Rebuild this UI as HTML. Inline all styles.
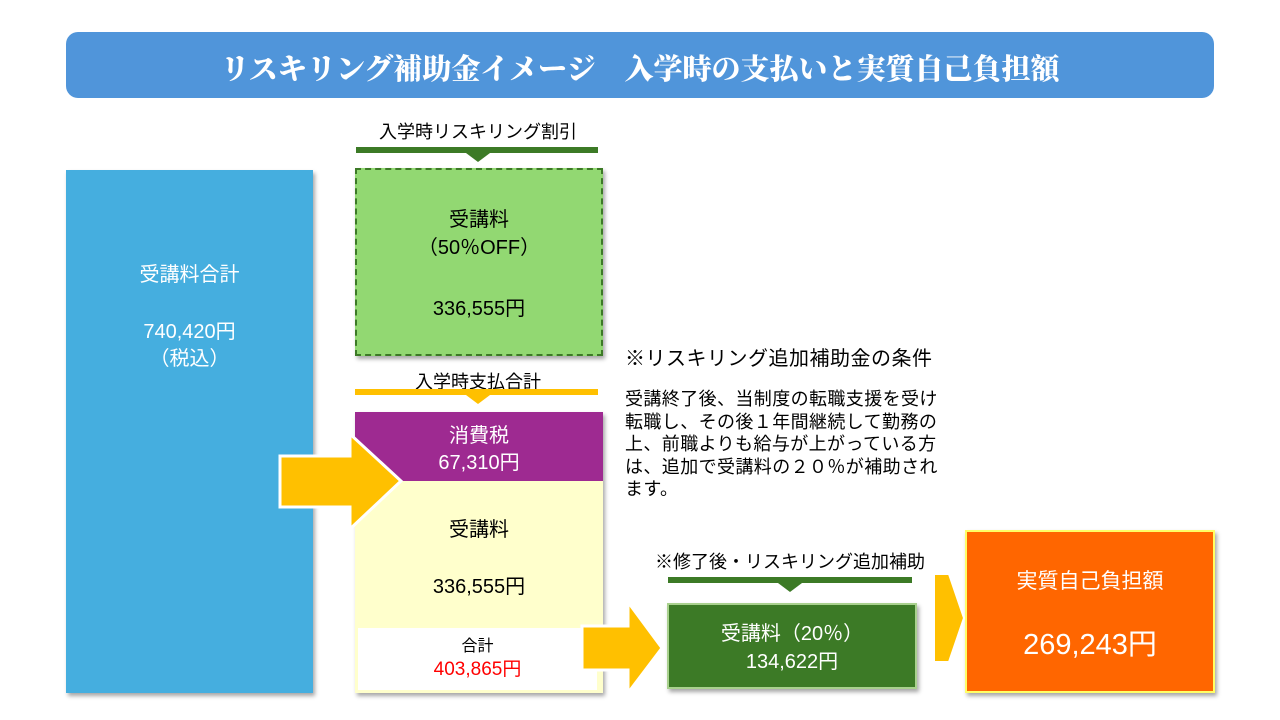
<!DOCTYPE html>
<html><head><meta charset="utf-8"><style>
body{margin:0;width:1280px;height:720px;background:#fff;position:relative;overflow:hidden;font-family:"Liberation Sans","Noto Sans CJK JP",sans-serif;}
.a{position:absolute;}
.c{position:absolute;text-align:center;white-space:nowrap;}
.sh{box-shadow:2px 3px 4px rgba(0,0,0,0.35);}
</style></head><body>
<div class="a" style="left:66px;top:32px;width:1148px;height:66px;background:#5095DA;border-radius:12px;"></div>
<div class="c" style="left:66px;top:48px;width:1148px;font-family:'Noto Serif CJK SC',serif;font-weight:900;font-size:29px;color:#fff;line-height:40px;">リスキリング補助金イメージ　入学時の支払いと実質自己負担額</div>

<div class="a sh" style="left:66px;top:170px;width:247px;height:523px;background:#45AEDF;"></div>
<div class="c" style="left:66px;top:262px;width:247px;color:#fff;font-size:20px;line-height:26px;">受講料合計</div>
<div class="c" style="left:66px;top:319px;width:247px;color:#fff;font-size:20px;line-height:27px;">740,420円<br>（税込）</div>

<div class="c" style="left:356px;top:118px;width:244px;font-size:18px;">入学時リスキリング割引</div>
<div class="a" style="left:356px;top:147px;width:242px;height:6px;background:#3C7A26;"></div>
<svg class="a" style="left:0;top:0" width="1280" height="720">
<polygon points="466,153 490,153 478,162" fill="#3C7A26"/>
<polygon points="466,395 490,395 478,404" fill="#FFC000"/>
<polygon points="778,583 802,583 790,592" fill="#3C7A26"/>
</svg>
<div class="a sh" style="left:355px;top:168px;width:244px;height:184px;background:#92D872;border:2px dashed #3C7A26;"></div>
<div class="c" style="left:355px;top:206px;width:248px;font-size:20px;line-height:28px;">受講料<br>（50％OFF）</div>
<div class="c" style="left:355px;top:292px;width:248px;font-size:20px;">336,555円</div>

<div class="c" style="left:356px;top:368px;width:244px;font-size:18px;">入学時支払合計</div>
<div class="a" style="left:355px;top:389px;width:243px;height:6px;background:#FFC000;"></div>

<div class="a sh" style="left:355px;top:412px;width:248px;height:281px;background:#FFFFCC;"></div>
<div class="a" style="left:355px;top:412px;width:248px;height:69px;background:#9E2A91;"></div>
<div class="c" style="left:355px;top:423px;width:248px;font-size:20px;line-height:27px;color:#fff;">消費税<br>67,310円</div>
<div class="c" style="left:355px;top:513px;width:248px;font-size:20px;">受講料</div>
<div class="c" style="left:355px;top:570px;width:248px;font-size:20px;">336,555円</div>
<div class="a" style="left:358px;top:628px;width:239px;height:62px;background:#fff;"></div>
<div class="c" style="left:358px;top:635px;width:239px;font-size:16px;line-height:23px;">合計<br><span style="color:#F00;font-size:19px;">403,865円</span></div>

<svg class="a" style="left:0;top:0" width="1280" height="720">
<polygon points="280,456 350,456 350,434 401,481 350,529 350,507 280,507" fill="#FFC000" stroke="#fff" stroke-width="3"/>
<polygon points="582,626 628,626 628,602 662,648 628,693 628,670 582,670" fill="#FFC000" stroke="#fff" stroke-width="3"/>
</svg>

<div class="a" style="left:625px;top:342px;font-size:20px;white-space:nowrap;letter-spacing:0.5px;">※リスキリング追加補助金の条件</div>
<div class="a" style="left:625px;top:388px;font-size:18px;line-height:22.5px;white-space:nowrap;letter-spacing:0.4px;">受講終了後、当制度の転職支援を受け<br>転職し、その後１年間継続して勤務の<br>上、前職よりも給与が上がっている方<br>は、追加で受講料の２０％が補助され<br>ます。</div>

<div class="c" style="left:640px;top:548px;width:300px;font-size:18px;">※修了後・リスキリング追加補助</div>
<div class="a" style="left:668px;top:577px;width:244px;height:6px;background:#3C7A26;"></div>
<div class="a sh" style="left:667px;top:603px;width:246px;height:82px;background:#3C7A26;border:2px solid #A9D18E;"></div>
<div class="c" style="left:667px;top:620px;width:250px;font-size:20px;line-height:28px;color:#fff;">受講料（20％）<br>134,622円</div>

<div class="a sh" style="left:965px;top:530px;width:246px;height:159px;background:#FF6600;border:2px solid #FFFF66;"></div>
<svg class="a" style="left:0;top:0" width="1280" height="720">
<polygon points="934,574 949,574 964,618 949,662 934,662" fill="#FFC000" stroke="#fff" stroke-width="2"/>
</svg>
<div class="c" style="left:965px;top:565px;width:250px;font-size:21px;color:#fff;">実質自己負担額</div>
<div class="c" style="left:965px;top:621px;width:250px;font-size:29px;color:#fff;">269,243円</div>
</body></html>
